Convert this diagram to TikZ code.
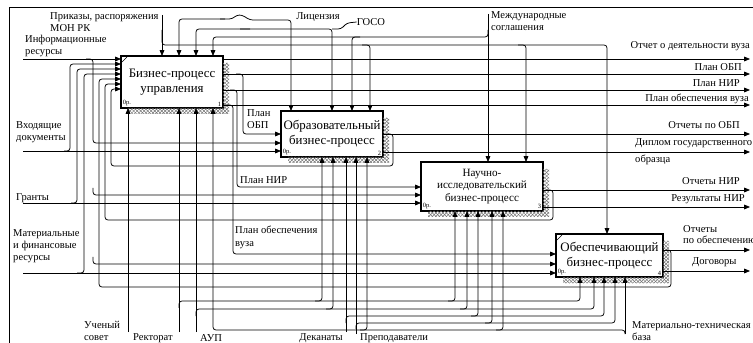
\documentclass[tikz,border=0pt]{standalone}
\usepackage{fontspec}
\setmainfont{Liberation Serif}
\usetikzlibrary{arrows.meta,calc,patterns}

\begin{document}
\begin{tikzpicture}[x=0.03cm,y=-0.03cm,
    proc/.style={draw,line width=1.1pt,fill=white,align=center,inner sep=1pt,outer sep=0pt,
      font=\fontsize{11}{12.5}\selectfont},
    lbl/.style={inner sep=0pt,align=left,font=\fontsize{9}{10.5}\selectfont},
    tag/.style={inner sep=1.5pt,font=\fontsize{5.5}{6}\selectfont},
    wire/.style={line width=0.65pt,rounded corners=2.5pt},
    arr/.style={wire,-{Triangle[length=5pt,width=4pt]}},
    hatch/.style={pattern=crosshatch,pattern color=black!55}]
  \useasboundingbox (0,0) rectangle (753,343);
  \draw[line width=0.6pt] (9,360) -- (9,7) -- (770,7);

  % blocks
  \node[proc,minimum width=3.06cm,minimum height=1.56cm] (b1) at (172,82) {Бизнес-процесс\\управления};
  \node[proc,minimum width=3.06cm,minimum height=1.38cm] (b2) at (332,134) {Образовательный\\бизнес-процесс};
  \node[proc,minimum width=3.66cm,minimum height=1.47cm,font=\fontsize{9.5}{10.5}\selectfont] (b3) at (482,186.5) {Научно-\\исследовательский\\бизнес-процесс};
  \node[proc,minimum width=3.21cm,minimum height=1.29cm] (b4) at (609.5,255.5) {Обеспечивающий\\бизнес-процесс};
  \foreach \b/\n in {b1/1,b2/2,b3/3,b4/4}{
    \fill[hatch] ($(\b.north east)+(0,7)$) -- ($(\b.north east)+(6,7)$) -- ($(\b.south east)+(6,6)$)
      -- ($(\b.south west)+(7,6)$) -- ($(\b.south west)+(7,0)$) -- (\b.south east) -- cycle;
    \node[tag,anchor=south west] at (\b.south west) {0р.};
    \node[tag,anchor=south east] at (\b.south east) {\n};
  }
  \draw[line width=0.5pt] ($(b1.north west)+(1,6)$) -- ($(b1.north west)+(6,1)$);
  \draw[line width=0.5pt] ($(b4.north west)+(1,6)$) -- ($(b4.north west)+(6,1)$);

  % labels
  \node[lbl,anchor=north west] (prk) at (50,12) {Приказы, распоряжения\\МОН РК};
  \node[lbl,anchor=north west] (inf) at (25,35) {Информационные\\ресурсы};
  \node[lbl] (lic) at (318,17) {Лицензия};
  \node[lbl] (gos) at (371,22) {ГОСО};
  \node[lbl,anchor=north west] (mzh) at (491,11) {Международные\\соглашения};
  \node[lbl,anchor=north west] (vh) at (16,121) {Входящие\\документы};
  \node[lbl,anchor=west] (gr) at (16,198) {Гранты};
  \node[lbl,anchor=north west] (mat) at (13,229) {Материальные\\и финансовые\\ресурсы};
  \node[lbl,anchor=east] (otd) at (750,46) {Отчет о деятельности вуза};
  \node[lbl,anchor=east] (pobp) at (742,67) {План ОБП};
  \node[lbl,anchor=east] (pnir) at (740,83) {План НИР};
  \node[lbl,anchor=east] (pobs) at (749,99) {План обеспечения вуза};
  \node[lbl,anchor=east] (oobp) at (740,125) {Отчеты по ОБП};
  \node[lbl,anchor=west] (dip) at (635,143) {Диплом государственного};
  \node[lbl,anchor=west] (dip2) at (635,160) {образца};
  \node[lbl,anchor=east] (onir) at (740,181) {Отчеты НИР};
  \node[lbl,anchor=east] (rnir) at (745,199) {Результаты НИР};
  \node[lbl,anchor=north west,font=\fontsize{9}{9.5}\selectfont] (oobs) at (683,225) {Отчеты\\по обеспечению};
  \node[lbl,anchor=west] (dog) at (692,262) {Договоры};
  \node[lbl,anchor=north west] (l2) at (247,109) {План\\ОБП};
  \node[lbl,anchor=west] (l3) at (240,180) {План НИР};
  \node[lbl,anchor=north west] (l4) at (235,226) {План обеспечения\\вуза};
  \node[lbl,anchor=north west] (us) at (84,321) {Ученый\\совет};
  \node[lbl,anchor=west] (rek) at (133,338) {Ректорат};
  \node[lbl,anchor=west] (aup) at (200,338) {АУП};
  \node[lbl,anchor=east] (dek) at (343,338) {Деканаты};
  \node[lbl,anchor=west] (prp) at (360,338) {Преподаватели};
  \node[lbl,anchor=north west] (mtb) at (632,321) {Материально-техническая\\база};

  % controls
  \draw[arr] (162,15) -- (b1.north -| 162,0);
  \draw[arr] (162,30) -- (162,45) -- (607,45) -- (b4.north -| 607,0);
  \draw[arr] (362,45) -- (370,45) -- (b2.north -| 370,0);
  \draw[arr] (518,45) -- (526,45) -- (b3.north -| 526,0);
  \draw[arr] (225,19) -- (179,19) -- (b1.north -| 179,0);
  \draw[arr] (220,19) -- (232,19) -- (237,15) -- (242,15) -- (250,20) -- (291,20) -- (b2.north -| 291,0);
  \draw[arr] (250,29) -- (196,29) -- (b1.north -| 196,0);
  \draw[arr] (240,29) -- (332,29) -- (b2.north -| 332,0);
  \draw[wire] (332,29) -- (341,29) -- (347,23) -- (gos.west);
  \draw[arr] (488,14) -- (b3.north -| 488,0);
  \draw[arr] (488,30) -- (488,37) -- (213,37) -- (b1.north -| 213,0);
  \draw[arr] (360,37) -- (352,37) -- (b2.north -| 352,0);

  % outputs
  \draw[arr] (b1.east |- 0,59) -- (750,59);
  \draw[arr] (b1.east |- 0,74) -- (750,74);
  \draw[arr] (b1.east |- 0,90) -- (750,90);
  \draw[arr] (b1.east |- 0,105) -- (750,105);
  \draw[arr] (b2.east |- 0,134) -- (750,134);
  \draw[arr] (b2.east |- 0,152) -- (750,152);
  \draw[arr] (b3.east |- 0,190) -- (750,190);
  \draw[arr] (b3.east |- 0,207) -- (750,207);
  \draw[arr] (b4.east |- 0,250) -- (750,250);
  \draw[arr] (b4.east |- 0,271) -- (750,271);

  % plans
  \draw[arr] (236,74) -- (243,74) -- (243,134) -- (b2.west |- 0,134);
  \draw[arr] (230,90) -- (237,90) -- (237,187) -- (b3.west |- 0,187);
  \draw[arr] (226,105) -- (233,105) -- (233,254) -- (b4.west |- 0,254);

  % feedback
  \draw[arr] (386,134) -- (393,134) -- (393,166) -- (111,166) -- (111,89) -- (b1.west |- 0,89);
  \draw[arr] (546,190) -- (553,190) -- (553,220) -- (105,220) -- (105,84) -- (b1.west |- 0,84);
  \draw[arr] (666,250) -- (671,250) -- (671,287) -- (99,287) -- (99,79) -- (b1.west |- 0,79);

  % inputs
  \draw[arr] (23,59) -- (b1.west |- 0,59);
  \draw[arr] (86,59) -- (93,59) -- (93,143) -- (b2.west |- 0,143);
  \draw[arr] (93,188) -- (93,195) -- (b3.west |- 0,195);
  \draw[arr] (93,257) -- (93,264) -- (b4.west |- 0,264);
  \draw[arr] (23,151) -- (b2.west |- 0,151);
  \draw[arr] (64,151) -- (70,151) -- (70,64) -- (b1.west |- 0,64);
  \draw[arr] (23,203) -- (b3.west |- 0,203);
  \draw[arr] (71,203) -- (77,203) -- (77,69) -- (b1.west |- 0,69);
  \draw[arr] (23,273) -- (b4.west |- 0,273);
  \draw[arr] (77,273) -- (84,273) -- (84,74) -- (b1.west |- 0,74);

  % mechanisms
  \draw[arr] (128,332) -- (b1.south -| 128,0);
  \draw[arr] (179,332) -- (b1.south -| 179,0);
  \draw[arr] (179,308) -- (179,301) -- (580,301) -- (b4.south -| 580,0);
  \draw[arr] (315,301) -- (322,301) -- (b2.south -| 322,0);
  \draw[arr] (448,301) -- (455,301) -- (b3.south -| 455,0);
  \draw[arr] (196,332) -- (b1.south -| 196,0);
  \draw[arr] (196,316) -- (196,309) -- (594,309) -- (b4.south -| 594,0);
  \draw[arr] (326,309) -- (333,309) -- (b2.south -| 333,0);
  \draw[arr] (460,309) -- (467,309) -- (b3.south -| 467,0);
  \draw[arr] (346,332) -- (b2.south -| 346,0);
  \draw[arr] (346,323) -- (346,316) -- (604,316) -- (b4.south -| 604,0);
  \draw[arr] (471,316) -- (478,316) -- (b3.south -| 478,0);
  \draw[arr] (356,334) -- (b2.south -| 356,0);
  \draw[arr] (356,329) -- (356,323) -- (615,323) -- (b4.south -| 615,0);
  \draw[arr] (485,323) -- (492,323) -- (b3.south -| 492,0);
  \draw[arr] (625,334) -- (b4.south -| 625,0);
  \draw[arr] (625,334) -- (625,330) -- (213,330) -- (b1.south -| 213,0);
  \draw[arr] (360,330) -- (367,330) -- (b2.south -| 367,0);
  \draw[arr] (496,330) -- (503,330) -- (b3.south -| 503,0);
\end{tikzpicture}
\end{document}
